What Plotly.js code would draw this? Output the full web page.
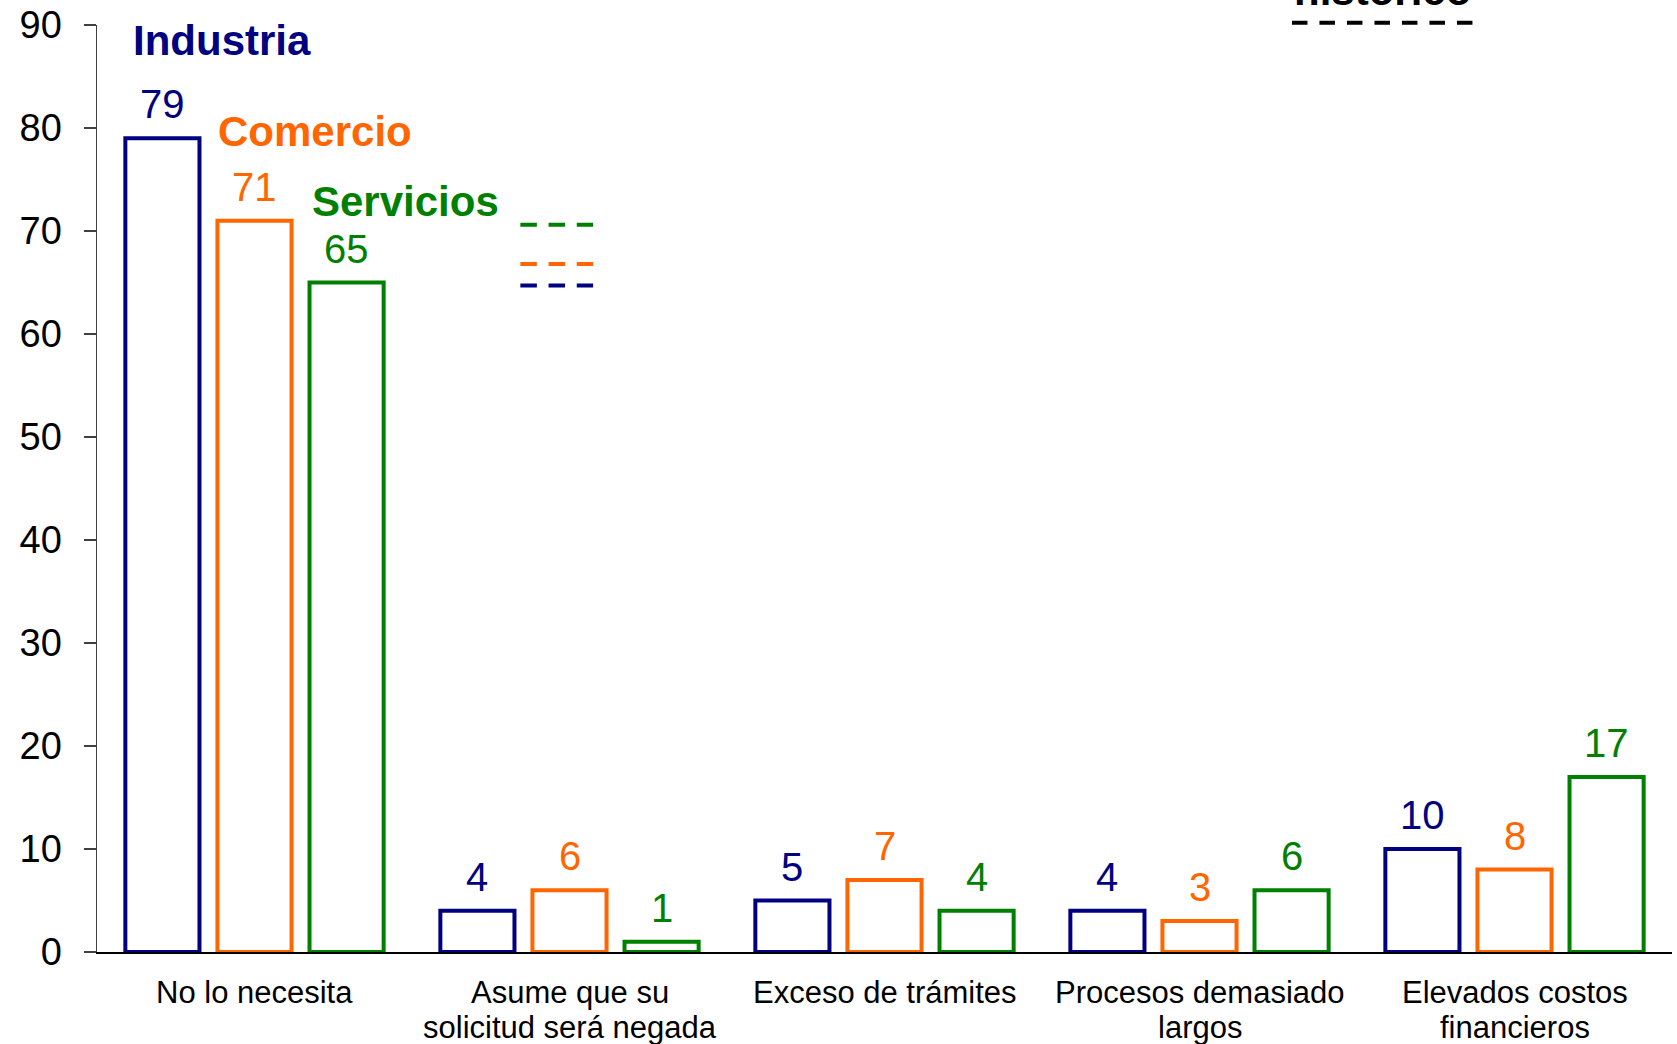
<!DOCTYPE html>
<html>
<head>
<meta charset="utf-8">
<script src="https://cdn.plot.ly/plotly-3.0.1.min.js"></script>
<style>
  html, body { margin: 0; padding: 0; background: #ffffff; }
  #chart { width: 1677px; height: 1044px; }
</style>
</head>
<body>
<div id="chart"></div>
<script>
// ---- Data ----
const categories = [
  'No lo necesita',
  'Asume que su<br>solicitud será negada',
  'Exceso de trámites',
  'Procesos demasiado<br>largos',
  'Elevados costos<br>financieros'
];
const seriesNames = ['Industria', 'Comercio', 'Servicios'];
const industria = [79, 4, 5, 4, 10];
const comercio  = [71, 6, 7, 3, 8];
const servicios = [65, 1, 4, 6, 17];
// historical reference dashes
const historico = [64.7, 66.8, 70.6]; // Industria, Comercio, Servicios
const yTicks = [0, 10, 20, 30, 40, 50, 60, 70, 80, 90];

// ---- Style ----
const colors = ['#000080', '#FF6600', '#008000'];
const FONT = 'Liberation Sans, Arial, sans-serif';
const BARGAP = 0.123;
const BARGROUPGAP = 0.195;

const allValues = [industria, comercio, servicios];
const xIdx = categories.map((_, i) => i);

const traces = allValues.map((vals, s) => ({
  type: 'bar',
  name: seriesNames[s],
  x: xIdx,
  y: vals,
  marker: { color: '#ffffff', line: { color: colors[s], width: 4 } },
  cliponaxis: false,
  hoverinfo: 'x+y'
}));

const slot = (1 - BARGAP) / 3;
const annotations = [];
allValues.forEach((vals, s) => {
  vals.forEach((v, i) => {
    annotations.push({
      x: i + (s - 1) * slot, y: v, xref: 'x', yref: 'y',
      text: String(v), showarrow: false,
      xanchor: 'center', yanchor: 'middle', yshift: 34,
      font: { family: FONT, size: 40, color: colors[s] }
    });
  });
});

// category labels (one annotation per line, tighter line spacing like the original)
categories.forEach((c, i) => {
  c.split('<br>').forEach((line, k) => {
    annotations.push({
      x: i, y: 0, xref: 'x', yref: 'y',
      text: line, showarrow: false,
      xanchor: 'center', yanchor: 'middle', yshift: -40.5 - k * 35,
      font: { family: FONT, size: 31, color: '#000000' }
    });
  });
});

// series name labels
const namePos = [
  { x: -0.393, y: 88.45 },
  { x: -0.121, y: 79.7 },
  { x: 0.177, y: 72.9 }
];
seriesNames.forEach((n, s) => {
  annotations.push({
    x: namePos[s].x, y: namePos[s].y, xref: 'x', yref: 'y',
    text: '<b>' + n + '</b>', showarrow: false,
    xanchor: 'left', yanchor: 'middle',
    font: { family: FONT, size: 42, color: colors[s] }
  });
});
annotations.push({
  x: 0.8162, y: 1.0369, xref: 'paper', yref: 'paper',
  text: '<b>histórico</b>', showarrow: false,
  xanchor: 'center', yanchor: 'middle',
  font: { family: FONT, size: 42, color: '#000000' }
});

const shapes = historico.map((h, s) => ({
  type: 'line', xref: 'x', yref: 'y',
  x0: 0.844, x1: 1.075, y0: h, y1: h,
  line: { color: colors[s], width: 4, dash: '16.5px,11.7px' }
}));
shapes.push({
  type: 'line', xref: 'paper', yref: 'paper',
  x0: 0.7587, x1: 0.8737, y0: 1.0024, y1: 1.0024,
  line: { color: '#000000', width: 4, dash: '15.5px,12px' }
});

const layout = {
  width: 1677, height: 1044,
  margin: { l: 96.7, r: 5.3, t: 24.7, b: 92.3 },
  paper_bgcolor: '#ffffff', plot_bgcolor: '#ffffff',
  showlegend: false,
  barmode: 'group',
  bargap: BARGAP,
  bargroupgap: BARGROUPGAP,
  font: { family: FONT, color: '#000000' },
  xaxis: {
    type: 'linear',
    range: [-0.5, 4.5],
    tickvals: xIdx,
    showticklabels: false,
    ticks: '',
    showgrid: false, zeroline: false,
    showline: true, linecolor: '#000000', linewidth: 1.5,
    layer: 'below traces',
    fixedrange: true
  },
  yaxis: {
    range: [0, 90],
    tickvals: yTicks,
    ticktext: yTicks.map(String),
    ticks: 'outside', ticklen: 12, tickwidth: 1.5, tickcolor: '#404040',
    showgrid: false, zeroline: false,
    showline: true, linecolor: '#404040', linewidth: 1.5,
    layer: 'below traces',
    tickfont: { family: FONT, size: 38, color: '#000000' },
    ticklabelstandoff: 14,
    fixedrange: true
  },
  annotations: annotations,
  shapes: shapes
};

Plotly.newPlot('chart', traces, layout, { displayModeBar: false, staticPlot: true });
</script>
</body>
</html>
